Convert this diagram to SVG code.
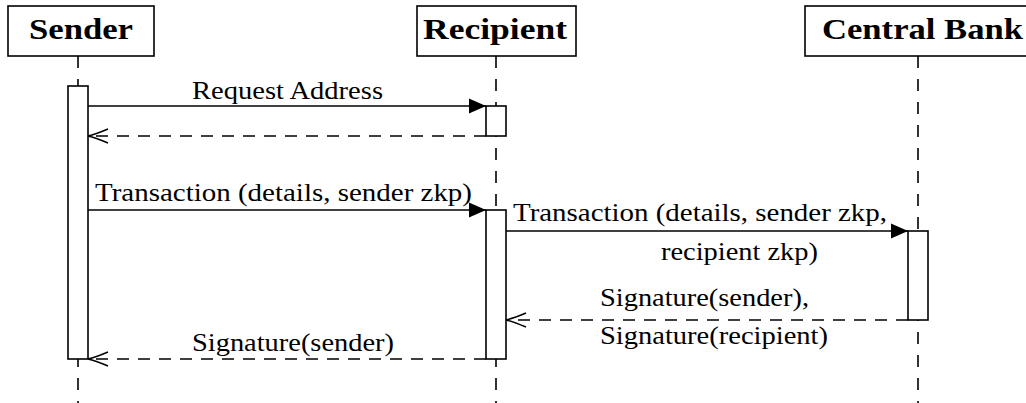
<svg xmlns="http://www.w3.org/2000/svg" width="1026" height="403" viewBox="0 0 1026 403">
<style>
  .box { fill: #fff; stroke: #000; stroke-width: 1.6; }
  .act { fill: #fff; stroke: #000; stroke-width: 1.6; }
  .life { stroke: #000; stroke-width: 1.6; stroke-dasharray: 12 11; fill: none; }
  .msg { stroke: #000; stroke-width: 1.6; fill: none; }
  .ret { stroke: #000; stroke-width: 1.6; fill: none; stroke-dasharray: 12 9; }
  .hdr { font-family: "Liberation Serif", "Times New Roman", serif; font-weight: bold; font-size: 29px; fill: #000; }
  .lbl { font-family: "Liberation Serif", "Times New Roman", serif; font-size: 25px; fill: #000; }
</style>
<defs>
  <marker id="filled" markerUnits="userSpaceOnUse" markerWidth="20" markerHeight="20" refX="0" refY="0" orient="auto" overflow="visible">
    <path d="M-17,-7.5 L0,0 L-17,7.5 Z" fill="#000" stroke="none"/>
  </marker>
  <marker id="open" markerUnits="userSpaceOnUse" markerWidth="24" markerHeight="20" refX="0" refY="0" orient="auto" overflow="visible">
    <path d="M-20,-7 Q-7,-1.5 0,0 Q-7,1.5 -20,7" fill="none" stroke="#000" stroke-width="1.6" stroke-dasharray="none"/>
  </marker>
</defs>

<g id="lifelines">
  <line class="life" x1="78" y1="56" x2="78" y2="403"/>
  <line class="life" x1="496" y1="56" x2="496" y2="403"/>
  <line class="life" x1="918" y1="56" x2="918" y2="403"/>
</g>

<g id="sender">
  <rect class="box" x="8" y="6" width="146" height="50"/>
  <text class="hdr" x="29" y="39" textLength="104" lengthAdjust="spacingAndGlyphs">Sender</text>
  <rect class="act" x="68" y="86" width="20" height="273"/>
</g>

<g id="recipient">
  <rect class="box" x="417" y="6" width="159" height="50"/>
  <text class="hdr" x="423" y="39" textLength="144" lengthAdjust="spacingAndGlyphs">Recipient</text>
  <rect class="act" x="486" y="106" width="20" height="30"/>
  <rect class="act" x="486" y="210" width="20" height="149"/>
</g>

<g id="central-bank">
  <rect class="box" x="805" y="6" width="226" height="50"/>
  <text class="hdr" x="822" y="39" textLength="201" lengthAdjust="spacingAndGlyphs">Central Bank</text>
  <rect class="act" x="908" y="231" width="20" height="89"/>
</g>

<g id="connectors">
  <line class="msg" x1="88" y1="106" x2="486" y2="106" marker-end="url(#filled)"/>
  <line class="ret" x1="486" y1="136" x2="88" y2="136" marker-end="url(#open)"/>
  <line class="msg" x1="88" y1="210" x2="486" y2="210" marker-end="url(#filled)"/>
  <line class="msg" x1="506" y1="231" x2="908" y2="231" marker-end="url(#filled)"/>
  <line class="ret" x1="908" y1="320" x2="506" y2="320" marker-end="url(#open)"/>
  <line class="ret" x1="486" y1="359" x2="88" y2="359" marker-end="url(#open)"/>
</g>

<g id="labels">
  <text class="lbl" x="192" y="99" textLength="191" lengthAdjust="spacingAndGlyphs">Request Address</text>
  <text class="lbl" x="95" y="201" textLength="377" lengthAdjust="spacingAndGlyphs">Transaction (details, sender zkp)</text>
  <text class="lbl" x="513" y="221" textLength="374" lengthAdjust="spacingAndGlyphs">Transaction (details, sender zkp,</text>
  <text class="lbl" x="661" y="260" textLength="157" lengthAdjust="spacingAndGlyphs">recipient zkp)</text>
  <text class="lbl" x="600" y="306" textLength="209" lengthAdjust="spacingAndGlyphs">Signature(sender),</text>
  <text class="lbl" x="600" y="344" textLength="228" lengthAdjust="spacingAndGlyphs">Signature(recipient)</text>
  <text class="lbl" x="192" y="351" textLength="202" lengthAdjust="spacingAndGlyphs">Signature(sender)</text>
</g>
</svg>
